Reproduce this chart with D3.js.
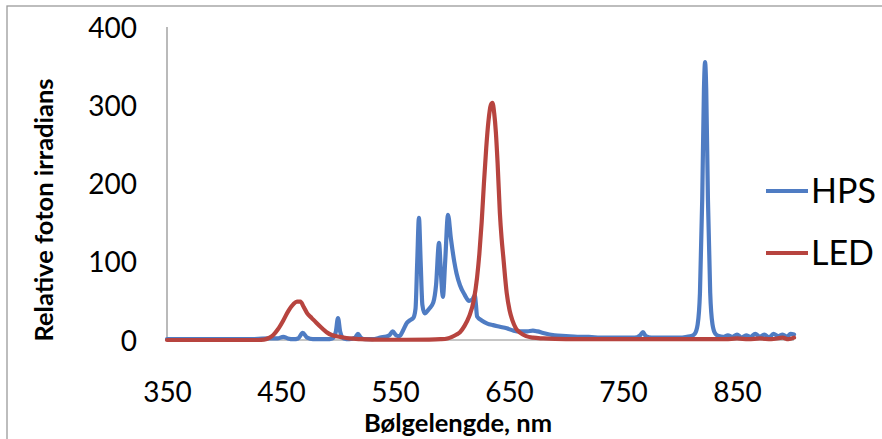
<!DOCTYPE html>
<html><head><meta charset="utf-8">
<script src="https://cdn.jsdelivr.net/npm/d3@7"></script>
<style>
html,body{margin:0;padding:0;background:#fff;}
svg{display:block;}
text{font-family:Lato,"Open Sans",sans-serif;fill:#000;}
</style></head>
<body>
<script>
// ---- data ----
const seriesNames = ["HPS", "LED"];
const xTicks = [350, 450, 550, 650, 750, 850];
const yTicks = [0, 100, 200, 300, 400];

const hpsWave = [350,360,370,380,390,400,410,420,430,440,447,452,456,461,465,469,473,478,485,490,495,498,500,502,505,510,515,517.5,520,524,530,537,545,548,551,554,557,560.5,564,566,568,569.5,571,572.5,574,576,580,583.6,586,588.6,590.5,592,594,596.5,599,602,604,607,611,615,618,620,621,622,626,631,636,642,648,654,660,666,671,675,680,690,700,710,720,730,740,750,760,765,767.5,770,775,780,790,800,806,810,813,815.5,817.5,819.5,821,822,823,824.5,826.5,828.5,831,834,838,842,846,850,854,858,862,866,870,874,878,882,886,890,894,897,900];
const hpsValue = [1,1,1,1,1,1,1,1,1.5,2,2,4,2,1,2,9,3,1,1,1,2,10,28,10,2,1,3,8,3,1,1,3,6,11,6,5,12,22,26,28,40,100,156,100,45,34,40,48,70,124,80,55,100,160,130,100,85,70,58,50,52,57,45,30,25,21,19,17,15,12,11,11,12,11,9,6,5,4,4,3,3,3,3,6,10,5,3,3,3,3,4,5,8,20,60,180,320,355,320,180,60,20,8,5,4,6,4,7,3,6,4,8,4,7,3,8,5,7,4,8,7];

const ledWave = [350,380,410,430,435,440,443,447,452,456,461,464,467,470,473,477,481,486,490,495,502,510,520,530,545,560,580,590,596,600,604,607,611,615,619,622,624,626,628,630,632,634,635.5,637,638.5,640,642,643.5,645,648,650.5,653,656,660,665,671,680,700,750,800,840,850,860,870,880,890,895,900];
const ledValue = [0,0,0,0,0.5,3,6,13,25,36,46,49,49,42,34,28,22,15,10,6,4,2,1,0.5,0.3,0.3,0.5,1,2,4,7,10,18,30,50,80,110,150,200,245,280,300,303,290,265,226,162,130,106,60,38,25,15,9,5,3,2,1,1,1,1,2,1,2,1,3,1,3];

const colors = ["#4f7cc3", "#b7443f"];

// ---- chart ----
const W = 882, H = 439;
const svg = d3.select("body").append("svg").attr("width", W).attr("height", H);

// outer chart border
svg.append("rect").attr("x", 7).attr("y", 6).attr("width", W + 20).attr("height", H + 20)
  .attr("fill", "none").attr("stroke", "#9a9a9a").attr("stroke-width", 1.3);

const x = d3.scaleLinear().domain([350, 900]).range([167, 794]);
const y = d3.scaleLinear().domain([0, 400]).range([340, 27]);

// axes lines
svg.append("line").attr("x1", x(350)).attr("x2", x(350)).attr("y1", y(400)).attr("y2", y(0))
  .attr("stroke", "#8c8c8c").attr("stroke-width", 1.2);
svg.append("line").attr("x1", x(350)).attr("x2", x(900)).attr("y1", y(0)).attr("y2", y(0))
  .attr("stroke", "#8c8c8c").attr("stroke-width", 1.2);

// y tick labels
const yAxis = d3.axisLeft(y).tickValues(yTicks).tickSize(0).tickPadding(0).tickFormat(d3.format("d"));
const gy = svg.append("g").attr("transform", `translate(137,0)`).call(yAxis);
gy.select(".domain").remove();
gy.selectAll("text").attr("font-size", 28).attr("font-family", "Lato").attr("dy", "0.36em");

// x tick labels
const xAxis = d3.axisBottom(x).tickValues(xTicks).tickSize(0).tickPadding(0).tickFormat(d3.format("d"));
const gx = svg.append("g").attr("transform", `translate(0,382)`).call(xAxis);
gx.select(".domain").remove();
gx.selectAll("text").attr("font-size", 28).attr("font-family", "Lato").attr("dy", "0.71em");

// axis titles
svg.append("text").attr("transform", "translate(53,210) rotate(-90)")
  .attr("text-anchor", "middle").attr("font-weight", "bold").attr("font-size", 25.5)
  .text("Relative foton irradians");
svg.append("text").attr("x", 458).attr("y", 432)
  .attr("text-anchor", "middle").attr("font-weight", "bold").attr("font-size", 25.5)
  .text("Bølgelengde, nm");

// lines
const line = d3.line().x(d => x(d[0])).y(d => y(d[1])).curve(d3.curveMonotoneX);
const series = [
  d3.zip(hpsWave, hpsValue),
  d3.zip(ledWave, ledValue)
];
series.forEach((s, i) => {
  svg.append("path").datum(s).attr("d", line)
    .attr("fill", "none").attr("stroke", colors[i]).attr("stroke-width", 4.2)
    .attr("stroke-linejoin", "round").attr("stroke-linecap", "round");
});

// legend
const legY = [191, 253];
seriesNames.forEach((n, i) => {
  svg.append("line").attr("x1", 766).attr("x2", 808).attr("y1", legY[i]).attr("y2", legY[i])
    .attr("stroke", colors[i]).attr("stroke-width", 4.2);
  svg.append("text").attr("x", 811).attr("y", legY[i]).attr("dy", "0.36em")
    .attr("font-size", 34).text(n);
});
</script>
</body></html>
